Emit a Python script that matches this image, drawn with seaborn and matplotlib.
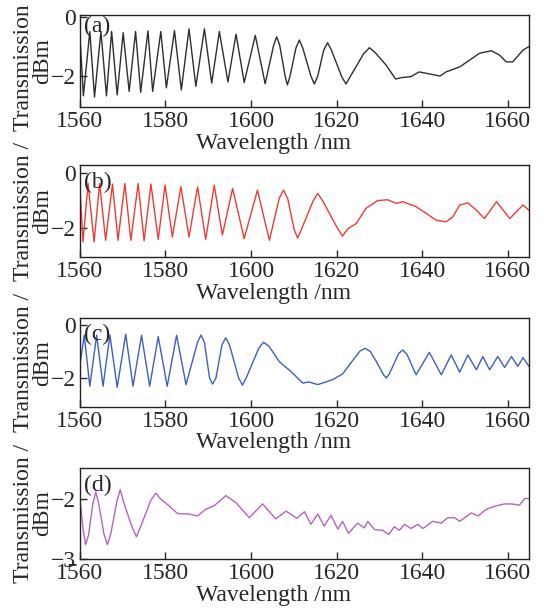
import matplotlib
matplotlib.use("Agg")
import matplotlib.pyplot as plt
import seaborn as sns

# Values (turning points of each spectrum, plus a few
# shoulder points on the broad fringes)
wl_a = [1560.0, 1560.8, 1562.3, 1563.4, 1564.9, 1566.2, 1567.4, 1568.7, 1570.1, 1571.5,
        1573.0, 1574.2, 1575.9, 1577.0, 1578.9, 1580.2, 1582.1, 1583.7, 1585.5, 1587.1,
        1589.1, 1590.8, 1592.6, 1594.6, 1596.5, 1598.4, 1601.0, 1603.3,
        1605.3, 1606.0, 1606.7, 1608.0, 1608.5, 1609.1, 1610.5, 1611.3, 1612.1,
        1614.0, 1614.8, 1615.6, 1617.0, 1617.9, 1618.8, 1621.2, 1622.2, 1623.2,
        1626.3, 1627.7, 1629.0, 1631.6, 1633.8, 1635.3, 1637.4, 1639.3,
        1641.8, 1644.2, 1645.6, 1648.8, 1653.4, 1656.2, 1658.1, 1659.7, 1661.2, 1663.6, 1665.0]
tr_a = [-0.67, -2.67, -0.49, -2.71, -0.49, -2.67, -0.49, -2.64, -0.53, -2.52,
        -0.49, -2.55, -0.47, -2.52, -0.49, -2.40, -0.46, -2.47, -0.40, -2.35,
        -0.40, -2.24, -0.49, -2.20, -0.58, -2.22, -0.62, -2.26,
        -0.95, -0.67, -0.95, -2.02, -2.30, -2.02, -1.05, -0.78, -1.05,
        -2.00, -2.27, -2.00, -1.12, -0.87, -1.12, -2.02, -2.27, -2.02,
        -1.25, -1.04, -1.20, -1.63, -2.10, -2.05, -2.02, -1.86,
        -1.93, -2.00, -1.86, -1.69, -1.23, -1.14, -1.29, -1.52, -1.52, -1.12, -1.00]

wl_b = [1560.0, 1560.7, 1561.9, 1563.3, 1564.6, 1566.0, 1567.6, 1568.9, 1570.5, 1571.9,
        1573.6, 1575.0, 1576.6, 1578.3, 1579.9, 1581.6, 1583.6, 1585.5, 1587.5, 1589.4,
        1591.4, 1593.3, 1595.7, 1598.4, 1601.5, 1604.3,
        1606.6, 1607.6, 1608.6, 1610.1, 1610.9, 1611.8, 1614.5, 1615.6, 1616.8,
        1620.2, 1621.4, 1622.6, 1624.6, 1626.9, 1629.6, 1632.0, 1633.9, 1635.5, 1638.6,
        1641.0, 1643.3, 1645.6, 1647.2, 1648.8, 1650.7, 1652.7, 1654.6, 1657.4, 1660.5,
        1663.6, 1665.0]
tr_b = [-0.56, -2.50, -0.38, -2.50, -0.38, -2.44, -0.40, -2.44, -0.38, -2.44,
        -0.38, -2.46, -0.40, -2.41, -0.44, -2.32, -0.50, -2.32, -0.50, -2.41,
        -0.44, -2.25, -0.56, -2.38, -0.62, -2.44,
        -0.92, -0.62, -0.94, -2.06, -2.36, -2.04, -1.02, -0.74, -1.02,
        -2.00, -2.29, -2.03, -1.83, -1.28, -1.00, -0.97, -1.10, -1.04, -1.22,
        -1.47, -1.71, -1.77, -1.59, -1.16, -1.08, -1.35, -1.65, -1.04, -1.65,
        -1.16, -1.35]

wl_c = [1560.0, 1561.0, 1562.3, 1563.9, 1565.4, 1567.0, 1568.7, 1570.7, 1572.4, 1574.4,
        1576.3, 1578.3, 1580.4, 1582.6, 1584.8, 1587.5, 1588.3, 1589.1, 1590.3, 1591.0, 1591.8,
        1593.2, 1594.1, 1595.0, 1597.1, 1598.0, 1599.0, 1601.8, 1602.9, 1604.2,
        1606.6, 1609.3, 1612.1, 1613.6, 1615.6, 1617.5, 1619.1, 1621.4, 1624.2, 1625.5,
        1626.7, 1627.9, 1629.2, 1631.0, 1631.6, 1632.3, 1634.5, 1635.5, 1636.5, 1638.6,
        1641.7, 1644.5, 1646.8, 1648.8, 1650.7, 1652.7, 1654.2, 1655.8, 1657.7, 1659.3,
        1660.9, 1662.4, 1663.6, 1665.0]
tr_c = [-1.50, -0.38, -2.31, -0.39, -2.31, -0.38, -2.35, -0.35, -2.31, -0.39,
        -2.31, -0.44, -2.31, -0.39, -2.25, -0.65, -0.38, -0.65, -2.00, -2.23, -2.00,
        -0.75, -0.48, -0.77, -2.00, -2.27, -1.95, -0.88, -0.65, -0.80,
        -1.38, -1.75, -2.19, -2.15, -2.25, -2.15, -2.06, -1.85, -1.25, -0.98,
        -0.88, -1.00, -1.35, -1.88, -2.00, -1.86, -1.08, -0.94, -1.12, -1.88,
        -1.03, -1.88, -1.13, -1.78, -1.13, -1.69, -1.19, -1.69, -1.19, -1.60,
        -1.19, -1.56, -1.23, -1.56]

wl_d = [1560.0, 1560.7, 1561.3, 1562.0, 1563.0, 1563.7, 1564.4, 1565.6, 1566.4, 1567.2,
        1568.6, 1569.4, 1570.2, 1572.1, 1573.2, 1574.3, 1576.5, 1577.7, 1578.9, 1580.8,
        1582.8, 1585.5, 1587.5, 1589.4, 1591.4, 1594.1, 1596.5, 1599.6, 1602.7, 1605.8,
        1608.2, 1610.7, 1612.5, 1614.0, 1615.6, 1617.1, 1618.7, 1620.3, 1621.4, 1622.8,
        1624.9, 1626.5, 1627.3, 1628.9, 1630.8, 1632.2, 1633.5, 1634.7, 1635.9, 1637.4,
        1639.0, 1640.2, 1642.5, 1644.5, 1646.0, 1647.6, 1648.8, 1651.5, 1653.1, 1655.0,
        1657.4, 1659.3, 1660.9, 1662.8, 1664.0, 1665.0]
tr_d = [-2.00, -2.48, -2.76, -2.60, -2.08, -1.88, -2.08, -2.58, -2.76, -2.58,
        -2.05, -1.84, -2.05, -2.45, -2.63, -2.44, -2.03, -1.90, -2.00, -2.11,
        -2.24, -2.25, -2.28, -2.17, -2.11, -1.94, -2.06, -2.31, -2.08, -2.33,
        -2.20, -2.32, -2.21, -2.42, -2.25, -2.45, -2.27, -2.50, -2.37, -2.57,
        -2.40, -2.48, -2.37, -2.51, -2.52, -2.59, -2.46, -2.52, -2.42, -2.49,
        -2.42, -2.49, -2.37, -2.40, -2.31, -2.31, -2.37, -2.23, -2.28, -2.17,
        -2.11, -2.08, -2.08, -2.10, -1.99, -1.99]

panel_tags = ["(a)", "(b)", "(c)", "(d)"]
x_ticks = [1560, 1580, 1600, 1620, 1640, 1660]
y_ticks = [[0, -2], [0, -2], [0, -2], [-2, -3]]

sns.set_style("ticks")
plt.rcParams['font.family'] = ['Liberation Serif', 'DejaVu Serif']
plt.rcParams['font.size'] = 17

fig = plt.figure(figsize=(5.44, 6.15), dpi=100)

# panel boxes in figure fraction
boxes = [
    [0.147, 0.826, 0.8254, 0.1496],
    [0.147, 0.582, 0.8254, 0.1496],
    [0.147, 0.338, 0.8254, 0.1447],
    [0.147, 0.091, 0.8254, 0.148],
]
ylims = [(-3.05, 0.07), (-3.05, 0.29), (-3.1, 0.26), (-3.0, -1.48)]
series = [(wl_a, tr_a, "#2e2e2e"), (wl_b, tr_b, "#ee3b35"),
          (wl_c, tr_c, "#3c5fc2"), (wl_d, tr_d, "#b862c0")]

for i, (wl, tr, col) in enumerate(series):
    ax = fig.add_axes(boxes[i])
    sns.lineplot(x=wl, y=tr, ax=ax, color=col, lw=1.0, estimator=None)
    ax.set_xlim(1560, 1665)
    ax.set_ylim(*ylims[i])
    ax.set_xticks(x_ticks)
    ax.set_yticks(y_ticks[i])
    ax.tick_params(direction='in', length=5, width=1, pad=3, labelsize=17)
    for s in ax.spines.values():
        s.set_linewidth(1)
        s.set_color("#222222")
    ax.set_xlabel("Wavelength /nm", fontsize=17, labelpad=0)
    ax.xaxis.set_label_coords(0.43, -0.28)
    ax.set_ylabel("Transmission /\ndBm", fontsize=17, linespacing=0.9)
    ax.yaxis.set_label_coords(-0.06, 0.5)
    ax.text(0.008, 0.99 if i == 0 else 0.93, panel_tags[i], transform=ax.transAxes,
            ha='left', va='top', fontsize=17)

fig.savefig("out.png", dpi=100)
